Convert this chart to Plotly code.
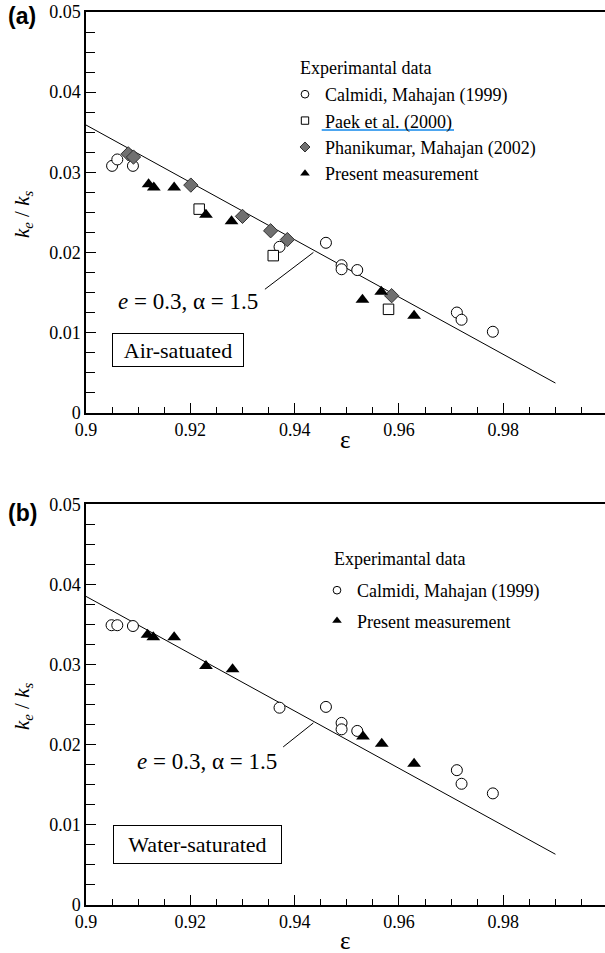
import plotly.graph_objects as go

# ---------------- data ----------------
# Panel (a): air-saturated
calmidi_a_eps = [0.9050, 0.9060, 0.9090, 0.9371, 0.9460, 0.9490, 0.9490, 0.9520, 0.9711, 0.9720, 0.9780]
calmidi_a_k = [0.0308, 0.0316, 0.0308, 0.0207, 0.0212, 0.0184, 0.0179, 0.0178, 0.0125, 0.0116, 0.0101]
paek_eps = [0.9217, 0.9359, 0.9580]
paek_k = [0.0254, 0.0196, 0.0129]
phani_eps = [0.9081, 0.9091, 0.9201, 0.9300, 0.9354, 0.9386, 0.9586]
phani_k = [0.0323, 0.0319, 0.0284, 0.0245, 0.0227, 0.0216, 0.0146]
present_a_eps = [0.9120, 0.9130, 0.9169, 0.9230, 0.9279, 0.9530, 0.9566, 0.9629]
present_a_k = [0.0285, 0.0281, 0.0281, 0.0247, 0.0239, 0.0141, 0.0151, 0.0121]
model_a_eps = [0.90, 0.99]
model_a_k = [0.0359, 0.0037]

# Panel (b): water-saturated
calmidi_b_eps = [0.9049, 0.9060, 0.9090, 0.9371, 0.9460, 0.9490, 0.9490, 0.9520, 0.9711, 0.9720, 0.9780]
calmidi_b_k = [0.0349, 0.0349, 0.0348, 0.0246, 0.0247, 0.0227, 0.0219, 0.0217, 0.0168, 0.0151, 0.0139]
present_b_eps = [0.9118, 0.9129, 0.9169, 0.9230, 0.9281, 0.9531, 0.9567, 0.9629]
present_b_k = [0.0337, 0.0334, 0.0334, 0.0298, 0.0294, 0.0210, 0.0201, 0.0176]
model_b_eps = [0.90, 0.99]
model_b_k = [0.0385, 0.0063]

names_a = ["Calmidi, Mahajan (1999)", "Paek et al. (2000)",
           "Phanikumar, Mahajan (2002)", "Present measurement"]
names_b = ["Calmidi, Mahajan (1999)", "Present measurement"]

x_major = [0.90, 0.92, 0.94, 0.96, 0.98]
x_labels = ["0.9", "0.92", "0.94", "0.96", "0.98"]
y_major = [0, 0.01, 0.02, 0.03, 0.04, 0.05]
y_labels = ["0", "0.01", "0.02", "0.03", "0.04", "0.05"]

# ---------------- geometry helpers ----------------
W, H = 605, 953
SERIF = "Liberation Serif, Tinos, 'Times New Roman', Times, 'DejaVu Serif', serif"
SANS = "Liberation Sans, Arimo, Arial, 'DejaVu Sans', sans-serif"


def px(x):
    return x / W


def py(y):
    return 1 - y / H


CIRCLE = dict(symbol="circle", color="white", size=11, line=dict(color="black", width=1))
SQUARE = dict(symbol="square", color="white", size=10.5, line=dict(color="black", width=1))
DIAMOND = dict(symbol="diamond", color="#707070", size=11, line=dict(color="#303030", width=1))
TRIANGLE = dict(symbol="triangle-up", color="black", size=12, line=dict(color="black", width=0))


def small(m, s):
    d = dict(m)
    d["size"] = s
    return d


fig = go.Figure()


def add_panel(xa, ya, legend, series):
    for eps, k, mk, name, kind in series:
        if kind == "line":
            fig.add_trace(go.Scatter(x=eps, y=k, mode="lines", xaxis=xa, yaxis=ya,
                                     line=dict(color="black", width=1), showlegend=False,
                                     hoverinfo="skip"))
    for eps, k, mk, name, kind in series:
        if kind == "pts":
            fig.add_trace(go.Scatter(x=eps, y=k, mode="markers", xaxis=xa, yaxis=ya,
                                     marker=mk, showlegend=False, name=name))
    for i, (eps, k, mk, name, kind) in enumerate(series):
        if kind == "pts":
            fig.add_trace(go.Scatter(x=[None], y=[None], mode="markers", xaxis=xa, yaxis=ya,
                                     marker=small(mk, mk["size"] * 0.7), name=name,
                                     legend=legend, legendgroup=legend + str(i),
                                     showlegend=True))


add_panel("x", "y", "legend", [
    (model_a_eps, model_a_k, None, None, "line"),
    (calmidi_a_eps, calmidi_a_k, CIRCLE, names_a[0], "pts"),
    (paek_eps, paek_k, SQUARE, names_a[1], "pts"),
    (phani_eps, phani_k, DIAMOND, names_a[2], "pts"),
    (present_a_eps, present_a_k, TRIANGLE, names_a[3], "pts"),
])
add_panel("x2", "y2", "legend2", [
    (model_b_eps, model_b_k, None, None, "line"),
    (calmidi_b_eps, calmidi_b_k, CIRCLE, names_b[0], "pts"),
    (present_b_eps, present_b_k, TRIANGLE, names_b[1], "pts"),
])

xdom = [86 / W, 1.0]
ydom_a = [1 - 412.7 / H, 1 - 12 / H]
ydom_b = [1 - 904.7 / H, 1 - 504.3 / H]

xcommon = dict(range=[0.9, 0.9995], tickmode="array", tickvals=x_major, ticktext=x_labels,
               ticks="inside", ticklen=10, tickwidth=1.2, tickcolor="black",
               minor=dict(dtick=0.005, tick0=0.9, ticks="inside", ticklen=6, tickwidth=1, tickcolor="black"),
               showline=True, linecolor="black", linewidth=1.5, mirror=True,
               showgrid=False, zeroline=False, automargin=False,
               tickfont=dict(family=SERIF, size=18, color="black"), domain=xdom)
ycommon = dict(range=[0, 0.05], tickmode="array", tickvals=y_major, ticktext=y_labels,
               ticks="inside", ticklen=10, tickwidth=1.2, tickcolor="black",
               minor=dict(dtick=0.0025, tick0=0, ticks="inside", ticklen=9, tickwidth=1, tickcolor="black"),
               showline=True, linecolor="black", linewidth=1.5,
               showgrid=False, zeroline=False, automargin=False,
               tickfont=dict(family=SERIF, size=18, color="black"))

fig.update_layout(
    width=W, height=H,
    margin=dict(l=0, r=0, t=0, b=0, pad=0),
    paper_bgcolor="white", plot_bgcolor="white",
    font=dict(family=SERIF, color="black"),
    xaxis=dict(xcommon, anchor="y"),
    yaxis=dict(ycommon, domain=ydom_a, anchor="x"),
    xaxis2=dict(xcommon, anchor="y2"),
    yaxis2=dict(ycommon, domain=ydom_b, anchor="x2"),
    legend=dict(x=px(285), y=py(76), xanchor="left", yanchor="top",
                font=dict(family=SERIF, size=18, color="black"),
                bgcolor="rgba(0,0,0,0)", borderwidth=0, itemwidth=30,
                tracegroupgap=0),
    legend2=dict(x=px(317), y=py(572), xanchor="left", yanchor="top",
                 font=dict(family=SERIF, size=18, color="black"),
                 bgcolor="rgba(0,0,0,0)", borderwidth=0, itemwidth=30,
                 tracegroupgap=4),
)

ann = []
ann.append(dict(text="<b>(a)</b>", x=px(6), y=py(15.7), xanchor="left", yanchor="middle",
                font=dict(family=SANS, size=23, color="black")))
ann.append(dict(text="<b>(b)</b>", x=px(6), y=py(513.3), xanchor="left", yanchor="middle",
                font=dict(family=SANS, size=23, color="black")))
for yc in (214, 706):
    ann.append(dict(text="<i>k</i><sub><i>e</i></sub> / <i>k</i><sub><i>s</i></sub>",
                    x=px(23), y=py(yc), textangle=-90, xanchor="center", yanchor="middle",
                    font=dict(family=SERIF, size=21, color="black")))
for yc in (440, 940):
    ann.append(dict(text="ε", x=px(345.5), y=py(yc), xanchor="center", yanchor="middle",
                    font=dict(family=SERIF, size=25, color="black")))
ann.append(dict(text="Experimantal data", x=px(298), y=py(68.3), xanchor="left", yanchor="middle",
                font=dict(family=SERIF, size=18, color="black")))
ann.append(dict(text="Experimantal data", x=px(332), y=py(559.3), xanchor="left", yanchor="middle",
                font=dict(family=SERIF, size=18, color="black")))
ann.append(dict(text="<i>e</i> = 0.3, α = 1.5", x=0.90575, y=0.01386, xref="x", yref="y",
                xanchor="left", yanchor="middle", font=dict(family=SERIF, size=23, color="black")))
ann.append(dict(text="<i>e</i> = 0.3, α = 1.5", x=0.9094, y=0.01785, xref="x2", yref="y2",
                xanchor="left", yanchor="middle", font=dict(family=SERIF, size=23, color="black")))
ann.append(dict(text="Air-satuated", x=0.9177, y=0.00777, xref="x", yref="y",
                xanchor="center", yanchor="middle", width=130, height=32,
                bordercolor="black", borderwidth=1, borderpad=0,
                font=dict(family=SERIF, size=22, color="black")))
ann.append(dict(text="Water-saturated", x=0.9213, y=0.00752, xref="x2", yref="y2",
                xanchor="center", yanchor="middle", width=167, height=37,
                bordercolor="black", borderwidth=1, borderpad=0,
                font=dict(family=SERIF, size=22, color="black")))
for a in ann:
    a.setdefault("xref", "paper")
    a.setdefault("yref", "paper")
    a["showarrow"] = False
fig.update_layout(annotations=ann)

fig.add_shape(type="line", xref="x", yref="y", x0=0.9343, y0=0.0154, x1=0.9436, y1=0.0200,
              line=dict(color="black", width=1))
fig.add_shape(type="line", xref="x2", yref="y2", x0=0.9378, y0=0.0197, x1=0.9436, y1=0.0227,
              line=dict(color="black", width=1))
fig.add_shape(type="line", xref="paper", yref="paper", x0=px(321.7), y0=py(130), x1=px(454), y1=py(130),
              line=dict(color="#4da6f0", width=2))

fig.write_html("out.html", config={"displayModeBar": False},
               post_script="document.body.style.margin='0';document.body.style.overflow='hidden';")
